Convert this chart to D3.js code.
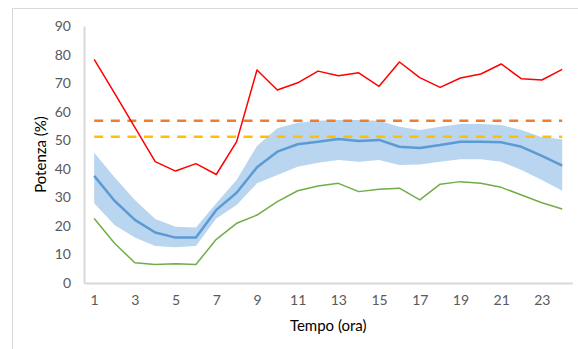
<!DOCTYPE html>
<html>
<head>
<meta charset="utf-8">
<script src="https://cdn.jsdelivr.net/npm/d3@7"></script>
<style>
  body { margin: 0; background: #fff; }
  svg { display: block; font-family: Lato, "Open Sans", sans-serif; }
</style>
</head>
<body>
<svg id="chart" width="578" height="349"></svg>
<script>
// dati: ore 1..24
const hours = d3.range(1, 25);
const xTicks = [1, 3, 5, 7, 9, 11, 13, 15, 17, 19, 21, 23];
const yTicks = [0, 10, 20, 30, 40, 50, 60, 70, 80, 90];

const meanVals = [37.5, 28.8, 22.1, 17.7, 15.9, 15.9, 25.6, 31.6, 40.5, 46.0, 48.6, 49.5,
                  50.4, 49.7, 50.1, 47.7, 47.3, 48.3, 49.5, 49.5, 49.3, 47.7, 44.5, 41.1];
const upperVals = [45.6, 37.0, 29.1, 22.4, 19.7, 19.4, 27.9, 36.1, 48.0, 54.2, 56.1, 56.8,
                   57.1, 57.1, 56.8, 54.7, 53.6, 54.7, 55.7, 55.7, 55.3, 53.6, 51.0, 50.3];
const lowerVals = [27.9, 20.3, 15.9, 13.0, 12.5, 13.0, 22.6, 27.3, 34.9, 37.8, 40.7, 42.1,
                   43.1, 42.5, 43.1, 41.3, 41.5, 42.5, 43.3, 43.3, 42.5, 39.6, 36.1, 32.3];
const maxVals = [78.3, 66.5, 54.5, 42.5, 39.2, 41.8, 38.0, 49.5, 74.6, 67.6, 70.1, 74.2,
                 72.6, 73.6, 68.9, 77.4, 71.9, 68.5, 71.8, 73.2, 76.7, 71.5, 71.1, 74.8];
const minVals = [22.6, 13.9, 7.1, 6.5, 6.7, 6.5, 15.3, 20.9, 23.8, 28.5, 32.3, 34.0,
                 34.9, 32.0, 32.8, 33.2, 29.1, 34.6, 35.5, 34.9, 33.5, 30.8, 28.1, 25.9];
const limitOrange = 56.8;
const limitYellow = 51.2;

const svg = d3.select("#chart");

// cornice esterna (si vede solo sinistra e sopra)
svg.append("rect")
    .attr("x", 12.5).attr("y", 8.5)
    .attr("width", 600).attr("height", 400)
    .attr("fill", "none")
    .attr("stroke", "#d9d9d9");

const x = d3.scaleLinear().domain([0.5, 24.5]).range([84, 572.4]);
const y = d3.scaleLinear().domain([0, 90]).range([283, 26]);

// fascia
const area = d3.area()
    .x((d, i) => x(hours[i]))
    .y0((d, i) => y(lowerVals[i]))
    .y1(d => y(d));

svg.append("path")
    .attr("d", area(upperVals))
    .attr("fill", "#bad5ef");

const line = d3.line().x((d, i) => x(hours[i])).y(d => y(d));

// soglie tratteggiate
[[limitOrange, "#ed7d31"], [limitYellow, "#ffc000"]].forEach(([v, c]) => {
    svg.append("path")
        .attr("d", line(hours.map(() => v)))
        .attr("fill", "none")
        .attr("stroke", c)
        .attr("stroke-width", 2.5)
        .attr("stroke-dasharray", "9,7.6");
});

svg.append("path")
    .attr("d", line(meanVals))
    .attr("fill", "none")
    .attr("stroke", "#5b9bd5")
    .attr("stroke-width", 2.5)
    .attr("stroke-linejoin", "round");

svg.append("path")
    .attr("d", line(maxVals))
    .attr("fill", "none")
    .attr("stroke", "#ff0000")
    .attr("stroke-width", 1.5)
    .attr("stroke-linejoin", "round");

svg.append("path")
    .attr("d", line(minVals))
    .attr("fill", "none")
    .attr("stroke", "#70ad47")
    .attr("stroke-width", 1.5)
    .attr("stroke-linejoin", "round");

// assi
const xAxis = svg.append("g")
    .attr("transform", `translate(0,${y(0)})`)
    .call(d3.axisBottom(x).tickValues(xTicks).tickSize(0).tickPadding(12));
xAxis.select(".domain").attr("stroke", "#d9d9d9").attr("stroke-width", 2);

const yAxis = svg.append("g")
    .attr("transform", `translate(${x.range()[0]},0)`)
    .call(d3.axisLeft(y).tickValues(yTicks).tickSize(0).tickPadding(13));
yAxis.select(".domain").attr("stroke", "#d9d9d9").attr("stroke-width", 2);

svg.selectAll(".tick text")
    .attr("fill", "#595959")
    .style("font-size", "14px")
    .style("font-family", "Lato, sans-serif");

svg.append("text")
    .attr("x", (x.range()[0] + x.range()[1]) / 2)
    .attr("y", 331)
    .attr("text-anchor", "middle")
    .style("font-size", "15px")
    .text("Tempo (ora)");

svg.append("text")
    .attr("transform", `translate(46,${(y(0) + y(90)) / 2}) rotate(-90)`)
    .attr("text-anchor", "middle")
    .style("font-size", "15px")
    .text("Potenza (%)");
</script>
</body>
</html>
